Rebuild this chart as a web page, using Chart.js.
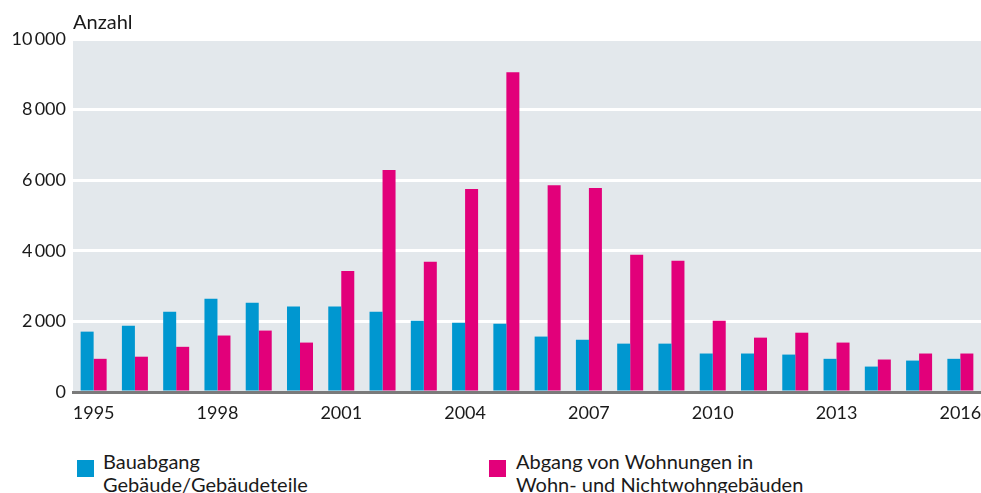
<!DOCTYPE html>
<html>
<head>
<meta charset="utf-8">
<script src="https://cdn.jsdelivr.net/npm/chart.js@4/dist/chart.umd.min.js"></script>
<style>
  html, body { margin: 0; padding: 0; background: #fff; width: 981px; height: 493px; overflow: hidden; }
  body { position: relative; font-family: "Lato", "Open Sans", sans-serif; color: #1a1a1a; }
  #wrap { position: absolute; left: 0; top: 0; width: 981px; height: 426px; }
  .txt { position: absolute; font-size: 20px; line-height: 23px; white-space: nowrap; }
  .sq { position: absolute; width: 17px; height: 17px; }
</style>
</head>
<body>
<div id="wrap"><canvas id="c" width="981" height="426"></canvas></div>
<div class="txt" style="left:73px; top:10px;">Anzahl</div>
<div class="sq" style="left:77px; top:460px; background:#0097d0;"></div>
<div class="txt" style="left:103px; top:450px;">Bauabgang<br>Gebäude/Gebäudeteile</div>
<div class="sq" style="left:489px; top:460px; background:#e2007a;"></div>
<div class="txt" style="left:516px; top:450px;">Abgang von Wohnungen in<br>Wohn- und Nichtwohngebäuden</div>
<script>
const years = ['1995','1996','1997','1998','1999','2000','2001','2002','2003','2004','2005','2006','2007','2008','2009','2010','2011','2012','2013','2014','2015','2016'];
const bauabgang = [1710, 1880, 2270, 2640, 2530, 2420, 2420, 2270, 2020, 1960, 1930, 1570, 1480, 1370, 1370, 1090, 1090, 1060, 940, 720, 890, 940];
const wohnungen = [940, 1000, 1280, 1600, 1740, 1400, 3430, 6290, 3690, 5750, 9060, 5860, 5780, 3890, 3720, 2020, 1540, 1680, 1400, 920, 1090, 1090];
const shownYears = ['1995','1998','2001','2004','2007','2010','2013','2016'];
const seriesNames = ['Bauabgang Gebäude/Gebäudeteile', 'Abgang von Wohnungen in Wohn- und Nichtwohngebäuden'];

const bgPlugin = {
  id: 'bg',
  beforeDraw(chart) {
    const a = chart.chartArea, ctx = chart.ctx;
    ctx.save();
    ctx.fillStyle = '#e3e8ec';
    ctx.fillRect(a.left, a.top, a.right - a.left, a.bottom - a.top);
    ctx.restore();
  }
};

function fmt(v) {
  return String(v).replace(/\B(?=(\d{3})+(?!\d))/g, '\u2009');
}

new Chart(document.getElementById('c'), {
  type: 'bar',
  data: {
    labels: years,
    datasets: [
      { label: seriesNames[0], data: bauabgang, backgroundColor: '#0097d0', barPercentage: 1, categoryPercentage: 0.63 },
      { label: seriesNames[1], data: wohnungen, backgroundColor: '#e2007a', barPercentage: 1, categoryPercentage: 0.63 }
    ]
  },
  options: {
    responsive: false,
    animation: false,
    devicePixelRatio: 1,
    layout: { padding: { top: 39, right: 0, bottom: 0, left: 0 } },
    plugins: { legend: { display: false }, tooltip: { enabled: false }, title: { display: false } },
    scales: {
      x: {
        grid: { display: false, drawTicks: false },
        border: { display: true, color: '#7a7a7a', width: 3 },
        ticks: {
          autoSkip: false, maxRotation: 0, padding: 10, color: '#1a1a1a',
          font: { family: 'Lato', size: 18 },
          callback: function(v, i) { const l = years[i]; return shownYears.includes(l) ? l : ''; }
        },
        afterFit(scale) { scale.height = 34; scale.paddingLeft = 0; scale.paddingRight = 0; }
      },
      y: {
        min: 0, max: 10000,
        grid: { color: '#ffffff', lineWidth: 3, drawTicks: false },
        border: { display: false },
        ticks: {
          stepSize: 2000, padding: 7, color: '#1a1a1a',
          font: { family: 'Lato', size: 18 },
          callback: function(v) { return fmt(v); }
        },
        afterFit(scale) { scale.width = 73; }
      }
    }
  },
  plugins: [bgPlugin]
});
</script>
</body>
</html>
